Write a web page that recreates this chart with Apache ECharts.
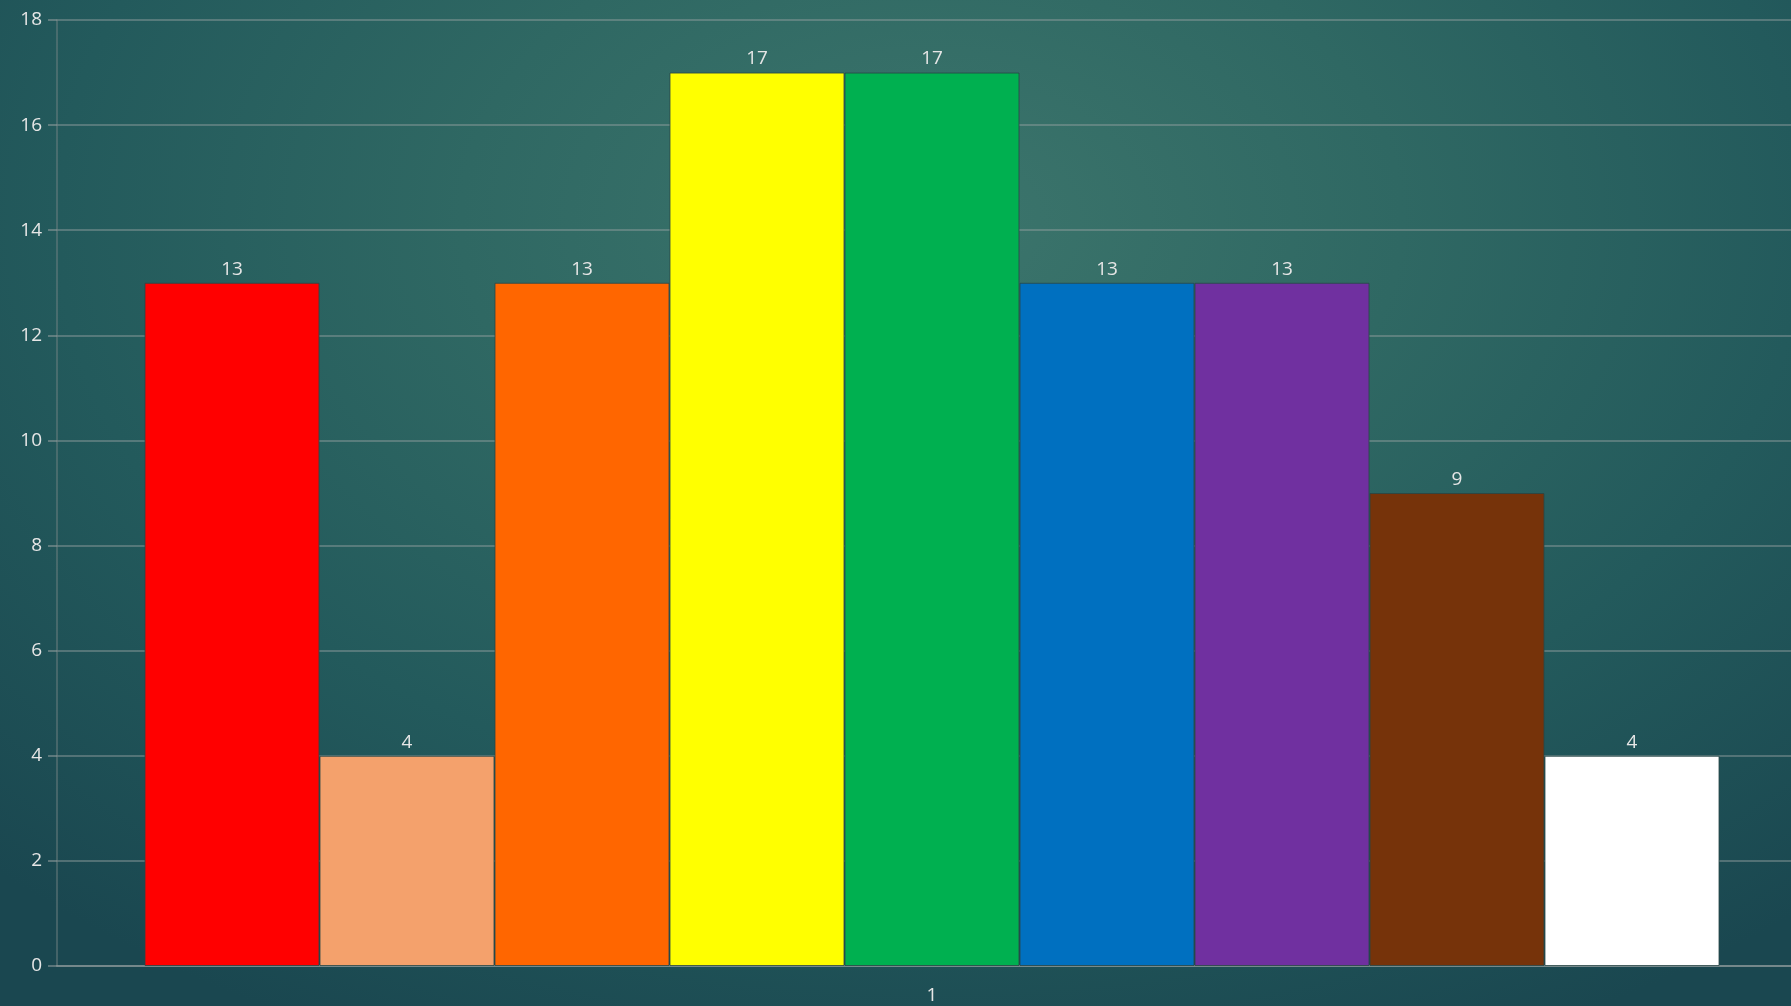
<!DOCTYPE html>
<html>
<head>
<meta charset="utf-8">
<script src="https://cdn.jsdelivr.net/npm/echarts@6/dist/echarts.min.js"></script>
<style>
html,body{margin:0;padding:0;width:1791px;height:1006px;overflow:hidden;}
body{background: radial-gradient(ellipse 75% 90% at 52% 22%, #3c756c 0%, #2f6863 35%, #235a5c 65%, #1a4750 100%);}
#chart{width:1791px;height:1006px;}
</style>
</head>
<body>
<div id="chart"></div>
<script>
const categories = ['1'];
const seriesNames = ['A','B','C','D','E','F','G','H','I'];
const seriesValues = [13, 4, 13, 17, 17, 13, 13, 9, 4];
const seriesColors = ['#ff0000','#f4a16c','#ff6600','#ffff00','#00b050','#0070c0','#7030a0','#76330a','#ffffff'];
const yTicks = {min: 0, max: 18, interval: 2};

const chart = echarts.init(document.getElementById('chart'), null, {renderer:'canvas'});
const textStyle = {color:'#e6e6e6', fontSize:19, fontFamily:'"Open Sans", "DejaVu Sans", sans-serif'};
chart.setOption({
  backgroundColor: 'transparent',
  animation: false,
  grid: {left: 57, top: 20, right: -16, bottom: 40, containLabel: false, outerBoundsMode: 'none'},
  xAxis: {
    type: 'category',
    data: categories,
    axisLine: {show: true, lineStyle: {color: 'rgba(150,160,160,0.7)', width: 1.5}},
    axisTick: {show: false},
    axisLabel: Object.assign({margin: 20}, textStyle),
    splitLine: {show: false}
  },
  yAxis: {
    type: 'value',
    min: yTicks.min, max: yTicks.max, interval: yTicks.interval,
    axisLine: {show: true, lineStyle: {color: 'rgba(120,135,135,0.6)', width: 1.5}},
    axisTick: {show: true, length: 9, lineStyle: {color: 'rgba(150,160,160,0.7)', width: 1.5}},
    axisLabel: Object.assign({margin: 15}, textStyle),
    splitLine: {show: true, lineStyle: {color: 'rgba(150,160,160,0.6)', width: 1.5}}
  },
  series: seriesNames.map((name, i) => ({
    name: name,
    type: 'bar',
    data: [seriesValues[i]],
    barGap: '0%',
    barCategoryGap: '10%',
    itemStyle: {color: seriesColors[i], borderColor: 'rgba(40,70,70,0.8)', borderWidth: 1},
    label: Object.assign({show: true, position: 'top', distance: 4}, textStyle)
  }))
});
</script>
</body>
</html>
